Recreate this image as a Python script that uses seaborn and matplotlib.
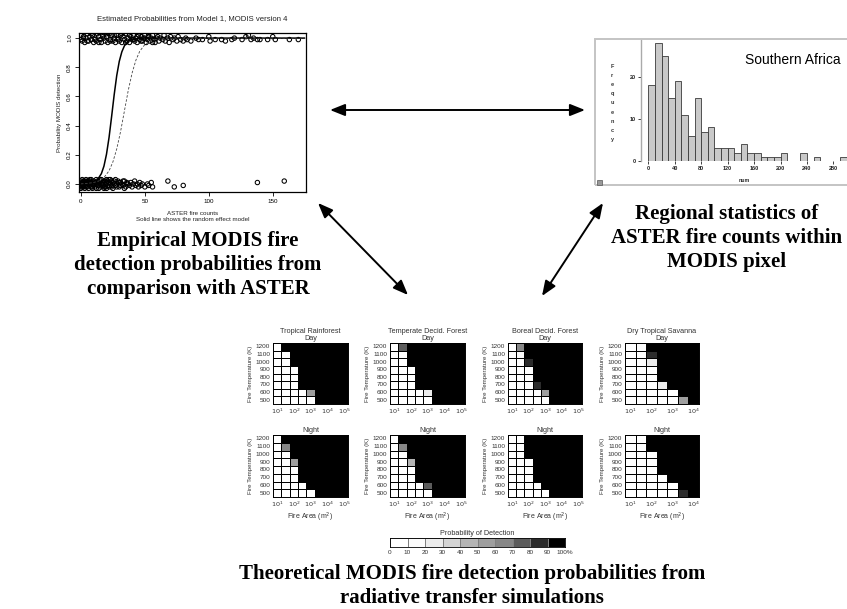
import numpy as np
import matplotlib
matplotlib.use('Agg')
import matplotlib.pyplot as plt
import seaborn as sns
from matplotlib.colors import ListedColormap, BoundaryNorm
from matplotlib.patches import Rectangle

# ---------------- data ----------------
# Scatter: MODIS non-detections (near 0) and detections (near 1)
x_nodet = [0, 0, 0, 0, 1, 1, 1, 2, 2, 2,
           3, 3, 3, 4, 4, 5, 5, 5, 6, 6,
           7, 7, 7, 8, 8, 9, 9, 10, 10, 11,
           11, 12, 12, 13, 13, 14, 14, 15, 15, 16,
           16, 17, 17, 18, 18, 19, 19, 20, 20, 21,
           21, 22, 23, 23, 24, 25, 25, 26, 27, 28,
           29, 30, 31, 32, 33, 34, 35, 36, 37, 38,
           39, 40, 41, 42, 43, 44, 45, 46, 47, 48,
           50, 52, 53, 55, 56, 68, 73, 80, 138, 159,
           0, 1, 2, 3, 4, 5, 6, 8, 9, 10,
           12, 13, 14, 15, 17, 18, 19, 20, 22, 22,
           24, 24, 26, 27, 28, 30, 31, 33, 34, 36]
y_nodet = [0.02, -0.01, 0.00, -0.03, 0.01, 0.03, -0.02, 0.01, -0.02, 0.02,
           -0.03, 0.00, 0.02, -0.01, 0.03, 0.01, -0.02, 0.02, -0.03, 0.00,
           0.02, -0.01, 0.03, -0.02, 0.01, 0.00, -0.03, 0.02, -0.01, 0.01,
           -0.02, 0.03, 0.00, -0.01, 0.02, -0.03, 0.01, 0.02, -0.02, 0.00,
           0.03, -0.01, 0.01, -0.03, 0.02, 0.00, -0.02, 0.01, 0.03, -0.01,
           0.02, -0.02, 0.00, 0.03, -0.01, 0.01, -0.03, 0.02, -0.01, 0.00,
           0.02, -0.02, 0.01, 0.00, -0.01, 0.02, -0.02, 0.01, 0.00, -0.01,
           0.01, -0.02, 0.00, 0.02, -0.01, 0.00, -0.02, 0.01, -0.01, 0.00,
           -0.02, 0.00, -0.01, 0.01, -0.02, 0.02, -0.02, -0.01, 0.01, 0.02,
           -0.02, 0.00, -0.01, 0.01, -0.02, 0.00, 0.02, 0.03, -0.02, 0.00,
           -0.03, 0.01, -0.01, 0.03, 0.00, -0.02, 0.02, -0.03, 0.01, 0.03,
           0.02, -0.02, 0.00, 0.03, -0.02, 0.01, -0.01, 0.02, -0.03, 0.00]
x_det = [0, 0, 1, 2, 3, 4, 5, 6, 7, 8,
         9, 10, 11, 12, 13, 14, 15, 16, 17, 18,
         19, 20, 21, 22, 23, 24, 25, 26, 27, 28,
         29, 30, 31, 32, 33, 34, 35, 36, 37, 38,
         39, 40, 41, 42, 43, 44, 45, 46, 47, 48,
         49, 50, 51, 52, 53, 54, 55, 56, 57, 58,
         60, 61, 62, 64, 65, 66, 68, 69, 70, 72,
         73, 75, 76, 78, 80, 82, 83, 86, 90, 92,
         95, 100, 101, 105, 110, 113, 118, 120, 126, 129,
         131, 133, 135, 138, 140, 146, 150, 152, 163, 170,
         2, 5, 8, 11, 14, 17, 20, 23, 26, 29,
         32, 35, 38, 41, 44, 47, 50, 53, 56, 59]
y_det = [0.99, 1.02, 0.98, 1.01, 0.97, 1.00, 1.03, 0.98, 1.01, 0.99,
         1.02, 0.97, 1.00, 0.98, 1.03, 1.01, 0.99, 0.97, 1.02, 1.00,
         0.98, 1.01, 0.97, 1.03, 0.99, 1.02, 0.98, 1.00, 0.97, 1.02,
         1.00, 0.98, 1.02, 0.97, 1.01, 0.99, 1.03, 0.98, 1.00, 0.97,
         1.01, 0.99, 1.02, 0.98, 1.00, 0.97, 1.02, 0.99, 1.01, 0.98,
         1.00, 1.02, 0.97, 0.99, 1.01, 0.98, 1.00, 1.02, 0.99, 0.97,
         1.01, 0.98, 1.00, 0.99, 1.02, 0.98, 1.00, 0.97, 1.01, 0.99,
         1.00, 0.98, 1.01, 0.99, 0.98, 1.00, 0.99, 0.98, 1.00, 0.99,
         0.99, 1.01, 0.98, 0.99, 0.99, 0.98, 0.99, 1.00, 0.99, 1.01,
         1.02, 0.99, 1.00, 0.99, 0.99, 0.99, 1.01, 0.99, 0.99, 0.99,
         1.00, 0.98, 1.03, 0.99, 0.97, 1.01, 1.03, 0.98, 1.02, 0.99,
         1.03, 0.97, 1.02, 0.99, 1.01, 0.98, 1.00, 1.03, 0.97, 1.00]

# Fitted curves
solid_x = [0, 5, 10, 13, 16, 18, 20, 22, 24, 26, 28, 30, 32, 34, 36, 38, 40, 45, 50, 175]
solid_y = [0.001, 0.003, 0.012, 0.030, 0.071, 0.122, 0.204, 0.319, 0.462, 0.611,
           0.743, 0.841, 0.906, 0.947, 0.970, 0.984, 0.991, 0.998, 1.0, 1.0]
dash_x = [0, 5, 10, 14, 18, 22, 25, 28, 31, 34, 37, 40, 43, 46, 50, 55, 60, 70, 175]
dash_y = [0.001, 0.004, 0.010, 0.021, 0.044, 0.090, 0.151, 0.240, 0.359, 0.5,
          0.641, 0.760, 0.849, 0.910, 0.956, 0.983, 0.993, 0.999, 1.0]

# Histogram: Southern Africa ASTER fire counts (bin width 10)
hist_bin_left = [0, 10, 20, 30, 40, 50, 60, 70, 80, 90, 100, 110, 120, 130, 140,
                 150, 160, 170, 180, 190, 200, 210, 220, 230, 240, 250, 260, 270, 280, 290]
hist_counts = [18, 28, 25, 15, 19, 11, 6, 15, 7, 8, 3, 3, 3, 2, 4,
               2, 2, 1, 1, 1, 2, 0, 0, 2, 0, 1, 0, 0, 0, 1]

# Probability of detection (%) grids, rows 1200 K (top) .. 500 K (bottom)
temps = ['1200', '1100', '1000', '900', '800', '700', '600', '500']
B = 100
grid_trop_day = [[0, B, B, B, B, B, B, B, B],
                 [0, 0, B, B, B, B, B, B, B],
                 [0, 0, B, B, B, B, B, B, B],
                 [0, 0, 0, B, B, B, B, B, B],
                 [0, 0, 0, B, B, B, B, B, B],
                 [0, 0, 0, B, B, B, B, B, B],
                 [0, 0, 0, 0, 55, B, B, B, B],
                 [0, 0, 0, 0, 0, B, B, B, B]]
grid_temp_day = [[0, 75, B, B, B, B, B, B, B],
                 [0, 0, B, B, B, B, B, B, B],
                 [0, 0, B, B, B, B, B, B, B],
                 [0, 0, 0, B, B, B, B, B, B],
                 [0, 0, 0, B, B, B, B, B, B],
                 [0, 0, 0, B, B, B, B, B, B],
                 [0, 0, 0, 0, 25, B, B, B, B],
                 [0, 0, 0, 0, 0, B, B, B, B]]
grid_bor_day = [[0, 65, B, B, B, B, B, B, B],
                [0, 15, B, B, B, B, B, B, B],
                [0, 0, 85, B, B, B, B, B, B],
                [0, 0, 0, B, B, B, B, B, B],
                [0, 0, 0, B, B, B, B, B, B],
                [0, 0, 0, 85, B, B, B, B, B],
                [0, 0, 0, 0, 55, B, B, B, B],
                [0, 0, 0, 0, 0, B, B, B, B]]
grid_sav_day = [[0, 15, B, B, B, B, B],
                [0, 0, 85, B, B, B, B],
                [0, 0, 25, B, B, B, B],
                [0, 0, 0, B, B, B, B],
                [0, 0, 0, B, B, B, B],
                [0, 0, 0, 25, B, B, B],
                [0, 0, 0, 0, 0, B, B],
                [0, 0, 0, 0, 0, 55, B]]
grid_trop_night = [[0, B, B, B, B, B, B, B, B],
                   [0, 65, B, B, B, B, B, B, B],
                   [0, 0, B, B, B, B, B, B, B],
                   [0, 0, 55, B, B, B, B, B, B],
                   [0, 0, 0, B, B, B, B, B, B],
                   [0, 0, 0, B, B, B, B, B, B],
                   [0, 0, 0, 0, B, B, B, B, B],
                   [0, 0, 0, 0, 0, B, B, B, B]]
grid_temp_night = [[0, B, B, B, B, B, B, B, B],
                   [0, 65, B, B, B, B, B, B, B],
                   [0, 0, B, B, B, B, B, B, B],
                   [0, 0, 45, B, B, B, B, B, B],
                   [0, 0, 0, B, B, B, B, B, B],
                   [0, 0, 0, B, B, B, B, B, B],
                   [0, 0, 0, 0, 75, B, B, B, B],
                   [0, 0, 0, 0, 0, B, B, B, B]]
grid_bor_night = [[0, 0, B, B, B, B, B, B, B],
                  [0, 0, B, B, B, B, B, B, B],
                  [0, 0, B, B, B, B, B, B, B],
                  [0, 0, 0, B, B, B, B, B, B],
                  [0, 0, 0, B, B, B, B, B, B],
                  [0, 0, 0, B, B, B, B, B, B],
                  [0, 0, 0, 0, B, B, B, B, B],
                  [0, 0, 0, 0, 0, B, B, B, B]]
grid_sav_night = [[0, 0, B, B, B, B, B],
                  [0, 0, B, B, B, B, B],
                  [0, 0, 0, B, B, B, B],
                  [0, 0, 0, B, B, B, B],
                  [0, 0, 0, B, B, B, B],
                  [0, 0, 0, 0, B, B, B],
                  [0, 0, 0, 0, 0, B, B],
                  [0, 0, 0, 0, 0, 85, B]]

panel_titles = ['Tropical Rainforest', 'Temperate Decid. Forest',
                'Boreal Decid. Forest', 'Dry Tropical Savanna']
legend_levels = [5, 15, 25, 35, 45, 55, 65, 75, 85, 95]
legend_labels = ['0', '10', '20', '30', '40', '50', '60', '70', '80', '90', '100%']

# ---------------- figure ----------------
W, H = 847, 609
sns.set_theme(style='white')
plt.rcParams['font.family'] = ['Liberation Sans', 'DejaVu Sans']

fig = plt.figure(figsize=(W / 100, H / 100), dpi=100)
fig.patch.set_facecolor('white')


def px_axes(l, t, r, b):
    return fig.add_axes([l / W, 1 - b / H, (r - l) / W, (b - t) / H])


# ---- top-left scatter ----
ax = px_axes(79, 33, 306, 192)
sns.scatterplot(x=x_nodet, y=y_nodet, ax=ax, marker='o', s=10,
                facecolors='none', edgecolors='black', linewidth=0.75)
sns.scatterplot(x=x_det, y=y_det, ax=ax, marker='o', s=10,
                facecolors='none', edgecolors='black', linewidth=0.75)
sns.lineplot(x=solid_x, y=solid_y, ax=ax, color='black', lw=1.1)
sns.lineplot(x=dash_x, y=dash_y, ax=ax, color='#444444', lw=0.6,
             linestyle=(0, (3, 2)))
ax.set_xlim(-1.5, 176)
ax.set_ylim(-0.055, 1.035)
ax.set_xticks([0, 50, 100, 150])
ax.set_yticks([0, 0.2, 0.4, 0.6, 0.8, 1.0])
ax.set_yticklabels(['0.0', '0.2', '0.4', '0.6', '0.8', '1.0'], rotation=90, va='center')
ax.tick_params(axis='both', direction='out', length=3, width=0.6, labelsize=4.5,
               pad=2, bottom=True, left=True, colors='black')
for sp in ax.spines.values():
    sp.set_color('black')
    sp.set_linewidth(0.9)
ax.set_ylabel('Probability MODIS detection', fontsize=4.5, labelpad=4, color='#222222')
ax.set_xlabel('ASTER fire counts\nSolid line shows the random effect model',
              fontsize=4.5, labelpad=5, color='#222222', linespacing=1.2)
ax.set_title('Estimated Probabilities from Model 1, MODIS version 4',
             fontsize=5.6, pad=9, color='#222222')

# ---- top-right histogram ----
fig.patches.append(Rectangle((595 / W, 1 - 185 / H), 260 / W, 146 / H,
                             transform=fig.transFigure, fill=False,
                             edgecolor='#c4c4c4', lw=1.4, zorder=0))
fig.patches.append(Rectangle((597 / W, 1 - 185 / H), 5 / W, 5 / H,
                             transform=fig.transFigure, fill=True, facecolor='#999999',
                             edgecolor='#555555', lw=0.5))
hx = px_axes(641, 39, 847, 161)
hx.patch.set_alpha(0)
sns.histplot(x=[b + 5 for b in hist_bin_left], weights=hist_counts,
             bins=list(range(0, 310, 10)), ax=hx, color='#c9c9c9',
             edgecolor='#3a3a3a', linewidth=0.6, alpha=1)
hx.set_xlim(-11, 300.5)
hx.set_ylim(0, 29)
hx.set_xticks(list(range(0, 281, 40)))
hx.set_yticks([0, 10, 20])
hx.tick_params(axis='both', direction='out', length=2, width=0.6, labelsize=4,
               pad=1.5, bottom=True, left=True, colors='#222222')
for lbl in hx.get_xticklabels() + hx.get_yticklabels():
    lbl.set_fontweight('bold')
for k, sp in hx.spines.items():
    sp.set_visible(k == 'left')
hx.spines['left'].set_color('#aaaaaa')
hx.spines['left'].set_linewidth(1.0)
hx.set_xlabel('num', fontsize=3.8, fontweight='bold', labelpad=5)
hx.set_ylabel('')
hx.text(0.97, 0.83, 'Southern Africa', transform=hx.transAxes, ha='right',
        va='center', fontsize=10, color='black')
for i, ch in enumerate('Frequency'):
    fig.text(612 / W, 1 - (66 + i * 9.2) / H, ch, fontsize=4, fontweight='bold',
             ha='center', va='center', color='#333333')

# ---- heatmaps ----
grey_cols = ['#ffffff', '#fbfbfb', '#ececec', '#d4d4d4', '#b4b4b4',
             '#9e9e9e', '#878787', '#5c5c5c', '#2c2c2c', '#000000']
cmap = ListedColormap(grey_cols)
norm = BoundaryNorm(list(range(0, 110, 10)), cmap.N)

col_px = [(273, 348), (390, 465), (508, 582), (625, 699)]
row_px = [(343, 404), (435, 497)]
grids = [[grid_trop_day, grid_temp_day, grid_bor_day, grid_sav_day],
         [grid_trop_night, grid_temp_night, grid_bor_night, grid_sav_night]]
hfont = dict(fontsize=4.6, color='#333333')

for r, (t, b) in enumerate(row_px):
    for c, (l, rr) in enumerate(col_px):
        hax = px_axes(l, t, rr, b)
        g = np.array(grids[r][c])
        sns.heatmap(g, ax=hax, cmap=cmap, norm=norm, cbar=False,
                    linewidths=0.4, linecolor='#808080')
        # solid black block drawn over the grid lines
        sns.heatmap(g, ax=hax, mask=(g < 90), cmap=cmap, norm=norm, cbar=False,
                    linewidths=0.5, linecolor='black')
        for sp in hax.spines.values():
            sp.set_visible(True)
            sp.set_color('black')
            sp.set_linewidth(0.7)
        ncol = g.shape[1]
        xt = [0.5, 2.5, 4.5, 6.5, 8.5] if ncol == 9 else [0.5, 2.5, 4.5, 6.5]
        hax.set_xticks(xt)
        hax.set_xticklabels([r'$10^{%d}$' % (i + 1) for i in range(len(xt))],
                            rotation=0, **hfont)
        hax.set_yticks(np.arange(8) + 0.5)
        hax.set_yticklabels(temps, rotation=0, **hfont)
        hax.tick_params(length=0, pad=2)
        hax.set_ylabel('Fire Temperature (K)', labelpad=2, fontsize=4.4, color='#333333')
        if r == 0:
            hax.set_title(panel_titles[c] + '\nDay', pad=2, linespacing=1.0,
                          fontsize=5.2, color='#333333')
            hax.set_xlabel('')
        else:
            hax.set_title('Night', pad=2, fontsize=5.2, color='#333333')
            hax.set_xlabel('Fire Area (m$^2$)', labelpad=1.5, fontsize=5,
                           color='#333333')

# ---- colour legend ----
cax = px_axes(390, 538, 565, 547)
sns.heatmap(np.array([legend_levels]), ax=cax, cmap=cmap, norm=norm, cbar=False,
            linewidths=0.4, linecolor='#808080')
for sp in cax.spines.values():
    sp.set_visible(True)
    sp.set_color('black')
    sp.set_linewidth(0.6)
cax.set_xticks(np.arange(11))
cax.set_xticklabels(legend_labels, rotation=0, **hfont)
cax.set_yticks([])
cax.tick_params(length=0, pad=2.5)
cax.set_title('Probability of Detection', pad=2, fontsize=5.2, color='#333333')

# ---- overlay: arrows and captions ----
ov = fig.add_axes([0, 0, 1, 1], zorder=10)
ov.set_xlim(0, W)
ov.set_ylim(H, 0)
ov.axis('off')
ov.patch.set_alpha(0)
arrow_props = dict(arrowstyle='<|-|>,head_length=0.75,head_width=0.3',
                   color='black', lw=1.4, shrinkA=0, shrinkB=0, mutation_scale=12)
for p0, p1 in [((330, 110), (585, 110)), ((318, 203), (408, 295)),
               ((603, 203), (542, 296))]:
    ov.annotate('', xy=p1, xytext=p0, arrowprops=arrow_props)

cap = dict(ha='center', va='center', fontfamily='Liberation Serif',
           fontweight='bold', fontsize=15.0, linespacing=1.28, color='black')
ov.text(198, 265, 'Empirical MODIS fire\ndetection probabilities from\ncomparison with ASTER', **cap)
ov.text(727, 238, 'Regional statistics of\nASTER fire counts within\nMODIS pixel', **cap)
ov.text(472, 586, 'Theoretical MODIS fire detection probabilities from\nradiative transfer simulations', **cap)

fig.savefig('out.png', dpi=100, facecolor='white')
